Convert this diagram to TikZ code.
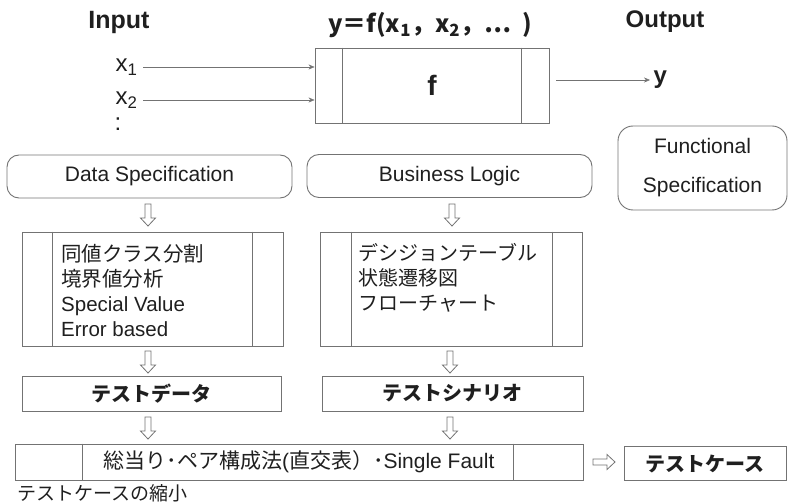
\documentclass[tikz,border=0pt]{standalone}
\usepackage{fontspec}
\setmainfont{Liberation Sans}
\newfontfamily\jpfont{Noto Sans CJK JP}
\usetikzlibrary{arrows.meta,positioning}
\colorlet{lineColor}{black!55}
\colorlet{textColor}{black!88}
\tikzset{>={Stealth[length=6pt,width=5pt]}}
\tikzset{
  every node/.style={text=textColor, font=\fontsize{21}{25}\selectfont},
  heading/.style={font=\fontsize{25}{29}\selectfont\bfseries},
  specbox/.style={draw=lineColor, line width=0.9pt, rounded corners=12pt, inner sep=0pt},
  plainbox/.style={draw=lineColor, line width=0.9pt, inner sep=0pt},
  hollowdown/.pic={\draw[lineColor, line width=0.8pt, fill=white]
    (-3,-11) -- (3,-11) -- (3,3) -- (7.5,3) -- (0,11) -- (-7.5,3) -- (-3,3) -- cycle;},
  hollowright/.pic={\draw[lineColor, line width=0.8pt, fill=white]
    (-11,-3) -- (3,-3) -- (3,-7.5) -- (11,0) -- (3,7.5) -- (3,3) -- (-11,3) -- cycle;}
}

\begin{document}
\begin{tikzpicture}[x=1pt,y=-1pt]
\useasboundingbox (0,0) rectangle (789,502);
% top row
\node[heading] (input) at (119,22) {Input};
\node[font=\fontsize{24}{28}\selectfont\bfseries] (output) at (665,22) {Output};
\node[font=\fontsize{24}{28}\selectfont\jpfont\bfseries] (func) at (430,25)
  {y＝f(x\textsubscript{1}，x\textsubscript{2}，…\ \ )};
\node[plainbox, minimum width=234, minimum height=75, font=\fontsize{28}{32}\selectfont\bfseries] (fbox) at (432,85.5) {f};
\draw[lineColor, line width=0.9pt] ([xshift=28]fbox.north west) -- ([xshift=28]fbox.south west);
\draw[lineColor, line width=0.9pt] ([xshift=-28]fbox.north east) -- ([xshift=-28]fbox.south east);
\node[font=\fontsize{24}{28}\selectfont, anchor=east] (x1) at (141,67) {x\textsubscript{1}};
\node[font=\fontsize{24}{28}\selectfont, anchor=east] (x2) at (141,100) {x\textsubscript{2}};
\node[font=\fontsize{24}{28}\selectfont] (xdots) at (118,124) {:};
\draw[->, lineColor] ([xshift=2]x1.east) -- (x1.east -| fbox.west);
\draw[->, lineColor] ([xshift=2]x2.east) -- (x2.east -| fbox.west);
\node[font=\fontsize{24}{28}\selectfont\bfseries, anchor=west] (yout) at (650,80) {y};
\draw[->, lineColor] ([xshift=7]fbox.east |- yout.west) -- (yout.west);

% specifications
\node[specbox, minimum width=285, minimum height=43] (dataspec) at (149.5,176.5) {Data Specification};
\node[specbox, minimum width=285, minimum height=43] (busilogic) at (449.5,176) {Business Logic};
\node[specbox, rounded corners=15pt, minimum width=169, minimum height=84, align=center,
  font=\fontsize{21}{39}\selectfont] (funcspec) at (702.5,168) {Functional\\Specification};
\pic at (148,215) {hollowdown};
\pic at (452,215) {hollowdown};

% techniques
\node[plainbox, minimum width=261, minimum height=114] (datatech) at (152.5,289) {};
\draw[lineColor, line width=0.9pt] ([xshift=31]datatech.north west) -- ([xshift=31]datatech.south west);
\draw[lineColor, line width=0.9pt] ([xshift=-31]datatech.north east) -- ([xshift=-31]datatech.south east);
\node[anchor=west, align=left, inner sep=0pt, font=\fontsize{20.5}{25}\selectfont] (datalist) at (61,290.5)
  {{\jpfont 同値クラス分割}\\{\jpfont 境界値分析}\\Special Value\\Error based};
\node[plainbox, minimum width=262, minimum height=114] (logictech) at (451,289) {};
\draw[lineColor, line width=0.9pt] ([xshift=32]logictech.north west) -- ([xshift=32]logictech.south west);
\draw[lineColor, line width=0.9pt] ([xshift=-30]logictech.north east) -- ([xshift=-30]logictech.south east);
\node[anchor=west, align=left, inner sep=0pt, font=\fontsize{20}{25}\selectfont\jpfont] (logiclist) at (358,278)
  {デシジョンテーブル\\状態遷移図\\フローチャート};
\pic at (148,362) {hollowdown};
\pic at (450,362) {hollowdown};

% test data / scenario
\node[plainbox, minimum width=259, minimum height=35, font=\fontsize{20}{24}\selectfont\jpfont\bfseries] (testdata) at (151.5,393.5) {テストデータ};
\node[plainbox, minimum width=261, minimum height=35, font=\fontsize{20}{24}\selectfont\jpfont\bfseries] (scenario) at (452.5,393.5) {テストシナリオ};
\pic at (148,428) {hollowdown};
\pic at (450,428) {hollowdown};

% combination
\node[plainbox, minimum width=568, minimum height=36] (combi) at (299,462)
  {{\jpfont 総当り･ペア構成法}({\jpfont 直交表）･}Single Fault};
\draw[lineColor, line width=0.9pt] ([xshift=68]combi.north west) -- ([xshift=68]combi.south west);
\draw[lineColor, line width=0.9pt] ([xshift=-70]combi.north east) -- ([xshift=-70]combi.south east);
\node[anchor=west, inner sep=0pt, font=\fontsize{19}{22}\selectfont\jpfont] (reduce) at (17,493) {テストケースの縮小};
\pic at (604,462) {hollowright};
\node[plainbox, minimum width=162, minimum height=34, font=\fontsize{20}{24}\selectfont\jpfont\bfseries] (testcase) at (705,463.5) {テストケース};
\end{tikzpicture}
\end{document}
